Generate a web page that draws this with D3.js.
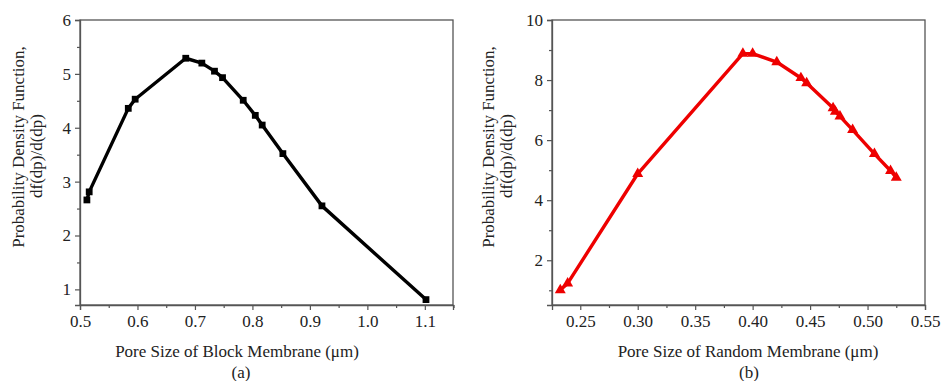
<!DOCTYPE html>
<html>
<head>
<meta charset="utf-8">
<script src="https://cdn.jsdelivr.net/npm/d3@7"></script>
<style>
  html, body { margin: 0; padding: 0; background: #fff; }
  svg { display: block; }
  text { font-family: "Liberation Serif", "DejaVu Serif", serif; fill: #222; }
</style>
</head>
<body>
<svg id="chart" width="943" height="381"></svg>
<script>
// ---- Data ----
const blockPoreSize = [0.512, 0.516, 0.584, 0.596, 0.684, 0.712, 0.734, 0.748, 0.784, 0.805, 0.817, 0.853, 0.921, 1.102];
const blockPDF      = [2.66, 2.81, 4.36, 4.53, 5.29, 5.20, 5.05, 4.93, 4.51, 4.23, 4.05, 3.52, 2.55, 0.81];

const randomPoreSize = [0.2326, 0.239, 0.300, 0.3915, 0.400, 0.421, 0.442, 0.447, 0.470, 0.472, 0.476, 0.487, 0.506, 0.520, 0.525];
const randomPDF      = [1.01, 1.23, 4.88, 8.88, 8.88, 8.60, 8.07, 7.90, 7.07, 6.95, 6.79, 6.34, 5.54, 4.98, 4.75];

const blockXTicks = [0.5, 0.6, 0.7, 0.8, 0.9, 1.0, 1.1];
const blockYTicks = [1, 2, 3, 4, 5, 6];
const randomXTicks = [0.25, 0.30, 0.35, 0.40, 0.45, 0.50, 0.55];
const randomYTicks = [2, 4, 6, 8, 10];

const yTitleLines = ["Probability Density Function,", "df(dp)/d(dp)"];
const blockXTitle = "Pore Size of Block Membrane (\u03bcm)";
const randomXTitle = "Pore Size of Random Membrane (\u03bcm)";

// ---- Panel configs (layout only) ----
const panels = [
  {
    xs: blockPoreSize, ys: blockPDF,
    xDomain: [0.5, 1.149], yDomain: [0.71, 6],
    xTicks: blockXTicks, yTicks: blockYTicks,
    xMinor: d3.range(0.55, 1.151, 0.1), yMinor: d3.range(1.5, 6, 1),
    xFmt: d3.format(".1f"), yFmt: d3.format("d"),
    left: 80, right: 453, top: 20, bottom: 305,
    color: "#000", marker: "square",
    xTitle: blockXTitle, xTitleX: 237, label: "(a)", labelX: 241,
    yTitleX: [18, 36]
  },
  {
    xs: randomPoreSize, ys: randomPDF,
    xDomain: [0.2254, 0.55], yDomain: [0.51, 10],
    xTicks: randomXTicks, yTicks: randomYTicks,
    xMinor: d3.range(0.275, 0.55, 0.05), yMinor: d3.range(1, 10, 2),
    xFmt: d3.format(".2f"), yFmt: d3.format("d"),
    left: 552, right: 925, top: 20, bottom: 305,
    color: "#ee0000", marker: "triangle",
    xTitle: randomXTitle, xTitleX: 748, label: "(b)", labelX: 749,
    yTitleX: [488, 506]
  }
];

const svg = d3.select("#chart");
const axisColor = "#555";
const tickFont = 17, titleFont = 17;

panels.forEach(p => {
  const x = d3.scaleLinear().domain(p.xDomain).range([p.left, p.right]);
  const y = d3.scaleLinear().domain(p.yDomain).range([p.bottom, p.top]);
  const g = svg.append("g");

  g.append("rect")
    .attr("x", p.left).attr("y", p.top)
    .attr("width", p.right - p.left).attr("height", p.bottom - p.top)
    .attr("fill", "none").attr("stroke", axisColor).attr("stroke-width", 1.3);

  const xAxis = d3.axisBottom(x).tickValues(p.xTicks).tickFormat(p.xFmt).tickSizeOuter(0).tickSize(5).tickPadding(5);
  const gx = g.append("g").attr("transform", `translate(0,${p.bottom})`).call(xAxis);
  gx.select(".domain").attr("stroke", axisColor).attr("stroke-width", 1.3);
  gx.selectAll(".tick line").attr("stroke", axisColor).attr("stroke-width", 1.2);
  gx.selectAll(".tick text").attr("font-size", tickFont).attr("font-family", "Liberation Serif").attr("fill", "#222");

  const xMinorAxis = d3.axisBottom(x).tickValues(p.xMinor).tickFormat("").tickSizeOuter(0).tickSize(3);
  const gxm = g.append("g").attr("transform", `translate(0,${p.bottom})`).call(xMinorAxis);
  gxm.select(".domain").remove();
  gxm.selectAll(".tick line").attr("stroke", axisColor).attr("stroke-width", 1.2);

  const yAxis = d3.axisLeft(y).tickValues(p.yTicks).tickFormat(p.yFmt).tickSizeOuter(0).tickSize(5).tickPadding(4);
  const gy = g.append("g").attr("transform", `translate(${p.left},0)`).call(yAxis);
  gy.select(".domain").attr("stroke", axisColor).attr("stroke-width", 1.3);
  gy.selectAll(".tick line").attr("stroke", axisColor).attr("stroke-width", 1.2);
  gy.selectAll(".tick text").attr("font-size", tickFont).attr("font-family", "Liberation Serif").attr("fill", "#222");

  const yMinorAxis = d3.axisLeft(y).tickValues(p.yMinor).tickFormat("").tickSizeOuter(0).tickSize(3);
  const gym = g.append("g").attr("transform", `translate(${p.left},0)`).call(yMinorAxis);
  gym.select(".domain").remove();
  gym.selectAll(".tick line").attr("stroke", axisColor).attr("stroke-width", 1.2);

  const pts = p.xs.map((v, i) => [v, p.ys[i]]);
  const line = d3.line().x(d => x(d[0])).y(d => y(d[1]));
  g.append("path").datum(pts)
    .attr("d", line).attr("fill", "none")
    .attr("stroke", p.color).attr("stroke-width", 3.4)
    .attr("stroke-linejoin", "round");

  const sym = p.marker === "square"
    ? d3.symbol().type(d3.symbolSquare).size(46)
    : d3.symbol().type(d3.symbolTriangle).size(52);
  g.selectAll("path.marker").data(pts).join("path")
    .attr("class", "marker")
    .attr("transform", d => `translate(${x(d[0])},${y(d[1])})`)
    .attr("d", sym).attr("fill", p.color);

  g.append("text").attr("x", p.xTitleX).attr("y", 357)
    .attr("text-anchor", "middle").attr("font-size", titleFont).text(p.xTitle);
  g.append("text").attr("x", p.labelX).attr("y", 378)
    .attr("text-anchor", "middle").attr("font-size", titleFont).text(p.label);

  const yc = [147, 156];
  yTitleLines.forEach((t, i) => {
    g.append("text")
      .attr("transform", `translate(${p.yTitleX[i]},${yc[i]}) rotate(-90)`)
      .attr("text-anchor", "middle").attr("dy", "0.35em")
      .attr("font-size", titleFont).text(t);
  });
});
</script>
</body>
</html>
